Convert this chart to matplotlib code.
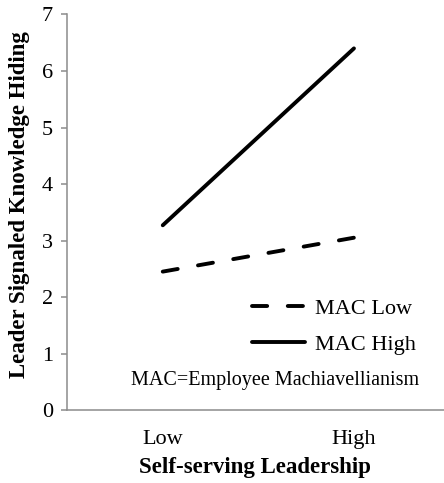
import matplotlib.pyplot as plt

# simple slopes data
categories = ['Low', 'High']
mac_low = [2.45, 3.05]
mac_high = [3.27, 6.40]
y_ticks = [0, 1, 2, 3, 4, 5, 6, 7]

plt.rcParams['font.family'] = 'Liberation Serif'

fig = plt.figure(figsize=(4.44, 4.83), dpi=100)
ax = fig.add_axes([0.150, 0.151, 0.850, 0.819])

x = range(len(categories))
ax.plot(x, mac_low, color='black', lw=2.8, dashes=(3.9, 5.3),
        dash_capstyle='round', label='MAC Low')
ax.plot(x, mac_high, color='black', lw=2.8, solid_capstyle='round', label='MAC High')

ax.set_xlim(-0.503, 1.471)
ax.set_ylim(0, 7)
ax.set_yticks(y_ticks)
ax.set_xticks(list(x))
ax.set_xticklabels(categories)

for s in ['top', 'right']:
    ax.spines[s].set_visible(False)
for s in ['left', 'bottom']:
    ax.spines[s].set_color('#8c8c8c')
    ax.spines[s].set_linewidth(1.1)

ax.tick_params(axis='y', length=4.3, width=1.1, color='#8c8c8c', labelsize=16, pad=5.5)
ax.tick_params(axis='x', length=0, labelsize=16, pad=14)

ax.set_xlabel('Self-serving Leadership', fontsize=16.5, fontweight='bold', labelpad=6)
ax.set_ylabel('Leader Signaled Knowledge Hiding', fontsize=16.5, fontweight='bold')
ax.yaxis.set_label_coords(-0.098, 0.52)

ax.legend(loc='center left', bbox_to_anchor=(0.49, 0.211), frameon=False,
          fontsize=16, handlelength=2.4, handletextpad=0.45, labelspacing=0.7,
          borderpad=0, borderaxespad=0)
ax.text(0.552, 0.076, 'MAC=Employee Machiavellianism', transform=ax.transAxes,
        ha='center', va='center', fontsize=14.5)

fig.savefig('out.png', dpi=100)
